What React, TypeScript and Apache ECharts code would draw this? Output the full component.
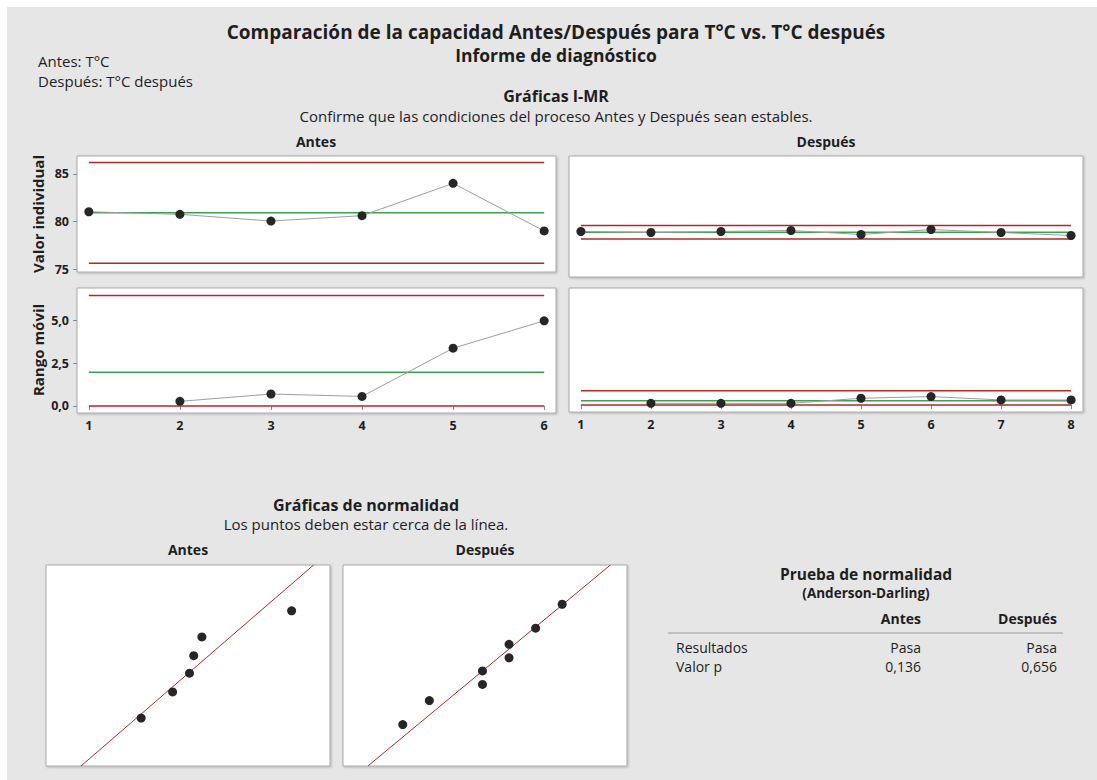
import React, { useEffect, useRef } from "react";
import * as echarts from "echarts";

// ---------- data ----------
const antesObs = [1, 2, 3, 4, 5, 6];
const antesValues = [81.04, 80.77, 80.07, 80.63, 84.01, 79.03];
const antesMRObs = [2, 3, 4, 5, 6];
const antesMR = [0.27, 0.7, 0.56, 3.38, 4.98];

const despuesObs = [1, 2, 3, 4, 5, 6, 7, 8];
const despuesValues = [79.3, 79.2, 79.3, 79.4, 79.0, 79.5, 79.2, 78.9];
const despuesMRObs = [2, 3, 4, 5, 6, 7, 8];
const despuesMR = [0.1, 0.1, 0.1, 0.4, 0.5, 0.3, 0.3];

// control limits [LCL, CL, UCL]
const antesILimits = [75.66, 80.93, 86.19];
const antesMRLimits = [0, 1.98, 6.46];
const despuesILimits = [78.54, 79.23, 79.91];
const despuesMRLimits = [0, 0.26, 0.84];

const iTickValues = [75, 80, 85];
const mrTickValues = [0, 2.5, 5];

// normal probability plots
const antesSorted = [79.03, 80.07, 80.63, 80.77, 81.04, 84.01];
const antesScores = [-1.23, -0.63, -0.2, 0.2, 0.63, 1.23];
const despuesSorted = [78.9, 79.0, 79.2, 79.2, 79.3, 79.3, 79.4, 79.5];
const despuesScores = [-1.38, -0.83, -0.46, -0.15, 0.15, 0.46, 0.83, 1.38];
const antesFit = [80.93, 1.67]; // mean, sd
const despuesFit = [79.23, 0.198];

// normality test table
const tableColumns = ["Antes", "Después"];
const tableRowLabels = ["Resultados", "Valor p"];
const antesTest = ["Pasa", "0,136"];
const despuesTest = ["Pasa", "0,656"];

// ---------- styles ----------
const FONT = "'Segoe UI', 'Open Sans', 'Noto Sans', sans-serif";
const TXT = "#1e1e1e";
const RED = "#b02a2a";
const GREEN = "#3f9f52";

const fmtComma = (v: number) => v.toFixed(1).replace(".", ",");

function App() {
  const ref = useRef<HTMLDivElement>(null);

  useEffect(() => {
    document.body.style.overflow = "hidden";
    const chart = echarts.init(ref.current!, undefined, { renderer: "svg" });

    const gridBase = {
      show: true,
      backgroundColor: "#ffffff",
      borderColor: "#a9a9a9",
      borderWidth: 1,
      shadowColor: "rgba(0,0,0,0.22)",
      shadowBlur: 2,
      shadowOffsetX: 1,
      shadowOffsetY: 1,
      containLabel: false,
    };
    const box = (x1: number, y1: number, x2: number, y2: number) => ({
      ...gridBase,
      left: x1,
      top: y1,
      width: x2 - x1,
      height: y2 - y1,
    });

    const grids = [
      box(77, 156, 556, 272), // I antes
      box(569, 156, 1083, 277), // I despues
      box(77, 288, 556, 413), // MR antes
      box(569, 288, 1083, 412), // MR despues
      box(46, 565, 330, 766), // normal antes
      box(343, 565, 627, 766), // normal despues
    ];

    const hidden = {
      axisLine: { show: false },
      axisTick: { show: false },
      axisLabel: { show: false },
      splitLine: { show: false },
    };
    const tickLabel = {
      fontFamily: FONT,
      fontWeight: "bold" as const,
      fontSize: 12.5,
      color: TXT,
    };

    const xAxes = [
      { gridIndex: 0, type: "value", min: 0.87, max: 6.13, ...hidden },
      { gridIndex: 1, type: "value", min: 0.83, max: 8.17, ...hidden },
      {
        gridIndex: 2,
        type: "value",
        min: 0.87,
        max: 6.13,
        axisLine: { show: false },
        splitLine: { show: false },
        axisTick: { show: true, customValues: antesObs, length: 4, lineStyle: { color: "#8a8a8a" } },
        axisLabel: { ...tickLabel, customValues: antesObs, margin: 6 },
      },
      {
        gridIndex: 3,
        type: "value",
        min: 0.83,
        max: 8.17,
        axisLine: { show: false },
        splitLine: { show: false },
        axisTick: { show: true, customValues: despuesObs, length: 4, lineStyle: { color: "#8a8a8a" } },
        axisLabel: { ...tickLabel, customValues: despuesObs, margin: 6 },
      },
      { gridIndex: 4, type: "value", min: 75.88, max: 85.28, ...hidden },
      { gridIndex: 5, type: "value", min: 78.675, max: 79.744, ...hidden },
    ];

    const yAxes = [
      {
        gridIndex: 0,
        type: "value",
        min: 74.74,
        max: 86.87,
        axisLine: { show: false },
        splitLine: { show: false },
        axisTick: { show: true, customValues: iTickValues, length: 4, lineStyle: { color: "#8a8a8a" } },
        axisLabel: { ...tickLabel, customValues: iTickValues, margin: 8 },
      },
      { gridIndex: 1, type: "value", min: 74.74, max: 86.87, ...hidden },
      {
        gridIndex: 2,
        type: "value",
        min: -0.41,
        max: 6.9,
        axisLine: { show: false },
        splitLine: { show: false },
        axisTick: { show: true, customValues: mrTickValues, length: 4, lineStyle: { color: "#8a8a8a" } },
        axisLabel: { ...tickLabel, customValues: mrTickValues, margin: 8, formatter: (v: number) => fmtComma(v) },
      },
      { gridIndex: 3, type: "value", min: -0.41, max: 6.9, ...hidden },
      { gridIndex: 4, type: "value", min: -2.33, max: 2.28, ...hidden },
      { gridIndex: 5, type: "value", min: -2.33, max: 2.28, ...hidden },
    ];

    const limitSeries = (idx: number, xs: number[], limits: number[]) =>
      limits.map((v, k) => ({
        type: "line",
        xAxisIndex: idx,
        yAxisIndex: idx,
        data: [
          [xs[0], v],
          [xs[xs.length - 1], v],
        ],
        symbol: "none",
        silent: true,
        z: 2,
        lineStyle: { color: k === 1 ? GREEN : RED, width: 1.5 },
      }));

    const dataSeries = (idx: number, xs: number[], ys: number[]) => ({
      type: "line",
      xAxisIndex: idx,
      yAxisIndex: idx,
      data: xs.map((x, i) => [x, ys[i]]),
      symbol: "circle",
      symbolSize: 9,
      itemStyle: { color: "#262626", opacity: 1 },
      lineStyle: { color: "#9e9e9e", width: 1 },
      z: 3,
    });

    const normalSeries = (idx: number, xs: number[], zs: number[], fit: number[], yMin: number, yMax: number) => [
      {
        type: "line",
        xAxisIndex: idx,
        yAxisIndex: idx,
        data: [
          [fit[0] + yMin * fit[1], yMin],
          [fit[0] + yMax * fit[1], yMax],
        ],
        symbol: "none",
        silent: true,
        z: 2,
        lineStyle: { color: RED, width: 1 },
      },
      {
        type: "scatter",
        xAxisIndex: idx,
        yAxisIndex: idx,
        data: xs.map((x, i) => [x, zs[i]]),
        symbol: "circle",
        symbolSize: 9,
        itemStyle: { color: "#262626", opacity: 1 },
        z: 3,
      },
    ];

    const series = [
      ...limitSeries(0, antesObs, antesILimits),
      dataSeries(0, antesObs, antesValues),
      ...limitSeries(1, despuesObs, despuesILimits),
      dataSeries(1, despuesObs, despuesValues),
      ...limitSeries(2, antesObs, antesMRLimits),
      dataSeries(2, antesMRObs, antesMR),
      ...limitSeries(3, despuesObs, despuesMRLimits),
      dataSeries(3, despuesMRObs, despuesMR),
      ...normalSeries(4, antesSorted, antesScores, antesFit, -2.33, 2.28),
      ...normalSeries(5, despuesSorted, despuesScores, despuesFit, -2.33, 2.28),
    ];

    const t = (
      text: string,
      x: number,
      y: number,
      size: number,
      weight: string | number,
      align: string = "center",
      rotation = 0
    ) => ({
      type: "text",
      x,
      y,
      rotation,
      silent: true,
      style: {
        text,
        fontFamily: FONT,
        fontSize: size,
        fontWeight: weight,
        fill: TXT,
        textAlign: align,
        textVerticalAlign: "middle",
      },
    });

    const graphics: any[] = [
      { type: "rect", silent: true, shape: { x: 0, y: 0, width: 1097, height: 7 }, style: { fill: "#ffffff" } },
      { type: "rect", silent: true, shape: { x: 0, y: 0, width: 7, height: 780 }, style: { fill: "#ffffff" } },
      t("Comparación de la capacidad Antes/Después para T°C vs. T°C después", 556, 32, 19, "bold"),
      t("Informe de diagnóstico", 556, 55, 17.5, "bold"),
      t("Antes: T°C", 38, 61, 15, "normal", "left"),
      t("Después: T°C después", 38, 81, 15, "normal", "left"),
      t("Gráficas I-MR", 556, 96, 16, "bold"),
      t("Confirme que las condiciones del proceso Antes y Después sean estables.", 556, 116, 15, "normal"),
      t("Antes", 316, 141, 14, "bold"),
      t("Después", 826, 141, 14, "bold"),
      t("Valor individual", 38, 214, 15, "bold", "center", Math.PI / 2),
      t("Rango móvil", 38, 350, 15, "bold", "center", Math.PI / 2),
      t("Gráficas de normalidad", 366, 505, 16, "bold"),
      t("Los puntos deben estar cerca de la línea.", 366, 524, 15, "normal"),
      t("Antes", 188, 549, 14, "bold"),
      t("Después", 485, 549, 14, "bold"),
      t("Prueba de normalidad", 866, 574, 15.5, "bold"),
      t("(Anderson-Darling)", 866, 593, 13.5, "bold"),
      t(tableColumns[0], 921, 618, 14, "bold", "right"),
      t(tableColumns[1], 1057, 618, 14, "bold", "right"),
      {
        type: "line",
        silent: true,
        shape: { x1: 668, y1: 633, x2: 1063, y2: 633 },
        style: { stroke: "#9a9a9a", lineWidth: 1 },
      },
    ];
    tableRowLabels.forEach((lab, i) => {
      const y = 647 + i * 19;
      graphics.push(t(lab, 676, y, 14, "normal", "left"));
      graphics.push(t(antesTest[i], 921, y, 14, "normal", "right"));
      graphics.push(t(despuesTest[i], 1057, y, 14, "normal", "right"));
    });

    chart.setOption({
      animation: false,
      backgroundColor: "#e6e6e6",
      textStyle: { fontFamily: FONT },
      grid: grids,
      xAxis: xAxes,
      yAxis: yAxes,
      series,
      graphic: graphics,
    } as any);

    return () => {
      chart.dispose();
    };
  }, []);

  return (
    <div
      ref={ref}
      style={{ position: "fixed", left: 0, top: 0, width: 1097, height: 780 }}
    />
  );
}

export default App;
